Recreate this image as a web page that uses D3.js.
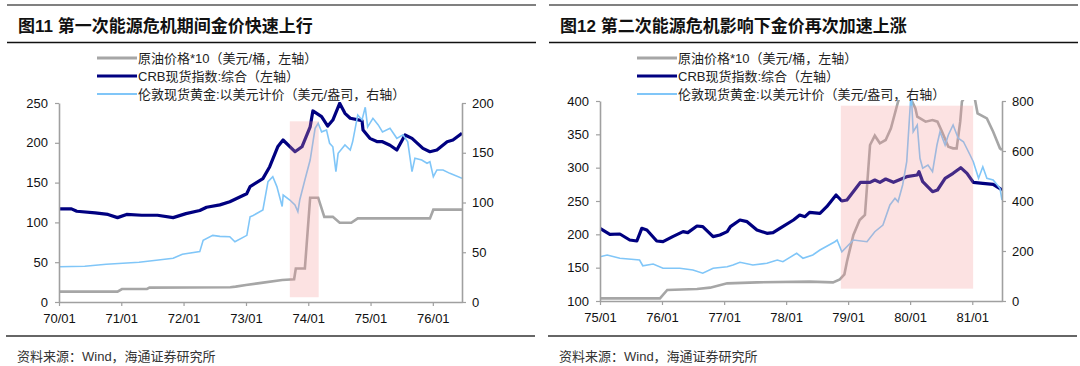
<!DOCTYPE html>
<html>
<head>
<meta charset="utf-8">
<script src="https://cdn.jsdelivr.net/npm/d3@7"></script>
<style>
body { margin: 0; background: #fff; }
text { font-family: "Liberation Sans", Arial, "Noto Sans CJK SC", sans-serif; }
</style>
</head>
<body>
<script>
// ---- 图11 data (1970-1976) ----
const oil1 = [
  ["1970-01-01", 13], ["1970-12-10", 13], ["1971-01-05", 16.3], ["1971-06-01", 16.5],
  ["1971-06-15", 18], ["1972-10-01", 18.5], ["1972-11-01", 19.3], ["1973-01-01", 21.4],
  ["1973-04-01", 24], ["1973-08-01", 27.6], ["1973-10-10", 28.5], ["1973-10-20", 42],
  ["1973-12-12", 42], ["1974-01-12", 131], ["1974-02-28", 131], ["1974-04-05", 107],
  ["1974-05-25", 107], ["1974-07-04", 99.6], ["1974-09-10", 99.6], ["1974-10-18", 105],
  ["1975-12-15", 105], ["1976-01-04", 116], ["1976-06-20", 116]
];
const crb1 = [
  ["1970-01-01", 117], ["1970-03-15", 117], ["1970-04-15", 114], ["1970-08-01", 112],
  ["1970-10-15", 110], ["1970-12-10", 106], ["1971-02-01", 110], ["1971-05-01", 109],
  ["1971-08-01", 109], ["1971-11-01", 106], ["1972-01-15", 111], ["1972-04-05", 115],
  ["1972-05-15", 119], ["1972-08-01", 122], ["1972-09-28", 126], ["1973-01-05", 136],
  ["1973-01-25", 145], ["1973-04-10", 155], ["1973-05-20", 170], ["1973-07-06", 195],
  ["1973-08-06", 203.5], ["1973-10-15", 188.8], ["1973-11-25", 195], ["1974-01-12", 220],
  ["1974-01-28", 240], ["1974-03-20", 232.8], ["1974-04-25", 221], ["1974-05-25", 228.6],
  ["1974-07-04", 249.6], ["1974-08-04", 237], ["1974-09-04", 230.8], ["1974-11-12", 227.8],
  ["1974-11-18", 216], ["1974-12-28", 205.6], ["1975-02-10", 201.4], ["1975-03-12", 201.4],
  ["1975-04-25", 197], ["1975-06-04", 191], ["1975-07-22", 209.8], ["1975-09-01", 205.6],
  ["1975-11-04", 193], ["1975-12-15", 188.8], ["1976-01-25", 191], ["1976-03-25", 201.4],
  ["1976-04-28", 203.5], ["1976-06-20", 212]
];
const gold1 = [
  ["1970-01-01", 35.5], ["1970-06-01", 36], ["1970-10-05", 38], ["1971-01-10", 39],
  ["1971-04-15", 40], ["1971-07-25", 42], ["1971-11-01", 44], ["1971-12-25", 48],
  ["1972-04-05", 50.6], ["1972-04-25", 62], ["1972-06-20", 67], ["1972-08-01", 66],
  ["1972-09-28", 65.6], ["1972-10-28", 60.6], ["1973-01-06", 67], ["1973-01-25", 85.7],
  ["1973-02-12", 87], ["1973-04-10", 92.5], ["1973-05-10", 121], ["1973-06-07", 126],
  ["1973-07-01", 116], ["1973-08-01", 96], ["1973-08-07", 107.5], ["1973-09-15", 102.5],
  ["1973-10-15", 97.5], ["1973-11-01", 90.8], ["1973-11-12", 102.5], ["1973-12-12", 122.6],
  ["1974-01-12", 142.7], ["1974-02-10", 174.5], ["1974-02-28", 179.6], ["1974-03-20", 171],
  ["1974-04-18", 172.9], ["1974-05-06", 159.5], ["1974-05-25", 156], ["1974-06-12", 131],
  ["1974-06-25", 149.4], ["1974-08-04", 157.8], ["1974-09-04", 152.8], ["1974-09-18", 161],
  ["1974-10-18", 188], ["1974-11-12", 183], ["1974-12-01", 195.7], ["1974-12-15", 176],
  ["1975-01-15", 184.6], ["1975-02-15", 178], ["1975-03-12", 171], ["1975-04-25", 174.5],
  ["1975-06-04", 164.5], ["1975-07-10", 168], ["1975-08-07", 161], ["1975-09-01", 131],
  ["1975-09-18", 144.4], ["1975-10-28", 142.7], ["1975-11-28", 139.4], ["1975-12-15", 141],
  ["1976-01-04", 126], ["1976-01-25", 132.7], ["1976-03-01", 132.7], ["1976-04-10", 129.3],
  ["1976-06-20", 124.3]
];
const shade1 = ["1973-09-15", "1974-03-03"];

// ---- 图12 data (1975-1981) ----
const oil2 = [
  ["1975-01-01", 104], ["1975-12-20", 104], ["1976-02-01", 116.5], ["1976-07-25", 118],
  ["1976-10-10", 120], ["1977-01-19", 126.5], ["1977-07-13", 128], ["1978-05-19", 129],
  ["1978-10-04", 128], ["1978-11-13", 132.5], ["1978-12-10", 140], ["1978-12-25", 159],
  ["1979-02-01", 199], ["1979-03-10", 221.5], ["1979-04-10", 229], ["1979-05-10", 334],
  ["1979-06-07", 348], ["1979-07-07", 336.5], ["1979-08-10", 341.5], ["1979-09-10", 359],
  ["1979-10-22", 399], ["1979-11-15", 415], ["1979-12-20", 412], ["1980-02-01", 389],
  ["1980-02-12", 376.5], ["1980-04-01", 369], ["1980-05-12", 371.5], ["1980-06-10", 369],
  ["1980-07-07", 354], ["1980-08-13", 331.5], ["1980-09-10", 329], ["1980-10-01", 329],
  ["1980-10-22", 369], ["1980-11-01", 399], ["1980-12-10", 415], ["1981-01-15", 405],
  ["1981-02-01", 381.5], ["1981-03-28", 374], ["1981-05-04", 354], ["1981-06-13", 329],
  ["1981-06-25", 326.5]
];
const crb2 = [
  ["1975-01-01", 209], ["1975-02-28", 200], ["1975-04-28", 200.5], ["1975-06-25", 191.5],
  ["1975-08-06", 190], ["1975-09-04", 209], ["1975-10-04", 206.5], ["1975-12-01", 190],
  ["1976-01-07", 189], ["1976-03-04", 196.5], ["1976-05-04", 204], ["1976-06-01", 202.5],
  ["1976-07-25", 212.5], ["1976-08-28", 211.5], ["1976-10-28", 196.5], ["1976-12-07", 199],
  ["1977-01-19", 204], ["1977-02-07", 211.5], ["1977-04-04", 221.5], ["1977-05-16", 219],
  ["1977-07-13", 206.5], ["1977-09-10", 201.5], ["1977-10-16", 202.5], ["1977-11-25", 209],
  ["1978-02-13", 221.5], ["1978-03-22", 229], ["1978-04-22", 226.5], ["1978-05-19", 233],
  ["1978-07-19", 231.5], ["1978-08-28", 241.5], ["1978-10-22", 259], ["1978-11-25", 250],
  ["1978-12-25", 251.5], ["1979-03-15", 278], ["1979-05-10", 278], ["1979-06-07", 281.5],
  ["1979-07-07", 278], ["1979-08-10", 283], ["1979-09-25", 278], ["1979-12-12", 286.5],
  ["1980-02-12", 289], ["1980-02-22", 294], ["1980-03-15", 279], ["1980-05-12", 264],
  ["1980-06-10", 266.5], ["1980-07-25", 284], ["1980-09-10", 291.5], ["1980-10-25", 300],
  ["1980-12-01", 291.5], ["1981-01-07", 278], ["1981-03-04", 276.5], ["1981-05-04", 275],
  ["1981-06-25", 266.5]
];
const gold2 = [
  ["1975-01-01", 177], ["1975-02-12", 184], ["1975-04-28", 171], ["1975-08-22", 164],
  ["1975-09-10", 141], ["1975-11-10", 148], ["1976-01-07", 131], ["1976-04-15", 131],
  ["1976-07-01", 124], ["1976-08-28", 111], ["1976-10-28", 131], ["1977-01-19", 137],
  ["1977-02-22", 144], ["1977-04-04", 155], ["1977-06-19", 144], ["1977-09-10", 151],
  ["1977-11-10", 164], ["1977-12-13", 157], ["1978-03-04", 191], ["1978-04-10", 171],
  ["1978-06-07", 184], ["1978-07-19", 204], ["1978-10-15", 237], ["1978-10-28", 244],
  ["1978-11-25", 197], ["1979-02-01", 244], ["1979-04-22", 237], ["1979-06-07", 277],
  ["1979-07-25", 304], ["1979-09-04", 384], ["1979-10-04", 411], ["1979-10-22", 397],
  ["1979-11-18", 464], ["1979-12-12", 557], ["1980-01-07", 840], ["1980-01-19", 677],
  ["1980-02-12", 704], ["1980-02-28", 571], ["1980-03-15", 531], ["1980-04-15", 544],
  ["1980-05-12", 517], ["1980-06-07", 624], ["1980-06-25", 677], ["1980-07-25", 624],
  ["1980-08-13", 664], ["1980-09-10", 704], ["1980-10-10", 651], ["1980-11-10", 637],
  ["1980-12-19", 584], ["1981-01-07", 557], ["1981-02-07", 491], ["1981-03-04", 537],
  ["1981-03-28", 491], ["1981-05-04", 484], ["1981-06-13", 451], ["1981-06-25", 404]
];
const shade2 = ["1978-11-19", "1981-01-06"];

const legendLabels = [
  "原油价格*10（美元/桶，左轴）",
  "CRB现货指数:综合（左轴）",
  "伦敦现货黄金:以美元计价（美元/盎司，右轴）"
];
const sourceText = "资料来源：Wind，海通证券研究所";

const parse = d3.timeParse("%Y-%m-%d");
const svg = d3.select("body").append("svg")
  .attr("width", 1080)
  .attr("height", 366);

function panel(o) {
  const g = svg.append("g");

  // frame rules
  g.append("line").attr("x1", o.frame[0]).attr("x2", o.frame[1]).attr("y1", 5).attr("y2", 5)
    .attr("stroke", "#808080").attr("stroke-width", 2);
  g.append("line").attr("x1", o.frame[0]).attr("x2", o.frame[1]).attr("y1", 42.5).attr("y2", 42.5)
    .attr("stroke", "#111").attr("stroke-width", 1.5);
  g.append("line").attr("x1", o.frame[0] - 1).attr("x2", o.frame[1] - 1).attr("y1", 336).attr("y2", 336)
    .attr("stroke", "#333").attr("stroke-width", 1.5);

  g.append("text").attr("x", o.frame[0] + 11).attr("y", 32)
    .attr("font-size", 17).attr("font-weight", "bold").attr("fill", "#111")
    .text(o.title);
  g.append("text").attr("x", o.frame[0] + 10).attr("y", 361)
    .attr("font-size", 13).attr("fill", "#333")
    .text(sourceText);

  const x = d3.scaleTime().domain(o.xDomain.map(parse)).range([o.left, o.right]);
  const yL = d3.scaleLinear().domain(o.yLDomain).range([o.bottom, o.top]);
  const yR = d3.scaleLinear().domain(o.yRDomain).range([o.bottom, o.top]);

  const clipId = "clip" + o.id;
  g.append("clipPath").attr("id", clipId).append("rect")
    .attr("x", o.left).attr("y", o.top - 1)
    .attr("width", o.right - o.left).attr("height", o.bottom - o.top + 1);

  const lineL = d3.line().x(d => x(parse(d[0]))).y(d => yL(d[1]));
  const lineR = d3.line().x(d => x(parse(d[0]))).y(d => yR(d[1]));

  const plot = g.append("g").attr("clip-path", `url(#${clipId})`);
  plot.append("path").datum(o.oil).attr("d", lineL)
    .attr("fill", "none").attr("stroke", "#a6a6a6").attr("stroke-width", 2.6);
  plot.append("path").datum(o.crb).attr("d", lineL)
    .attr("fill", "none").attr("stroke", "#000080").attr("stroke-width", 3.2)
    .attr("stroke-linejoin", "round");
  plot.append("path").datum(o.gold).attr("d", lineR)
    .attr("fill", "none").attr("stroke", "#80c6f8").attr("stroke-width", 1.6);

  // crisis shading
  g.append("rect")
    .attr("x", x(parse(o.shade[0])))
    .attr("width", x(parse(o.shade[1])) - x(parse(o.shade[0])))
    .attr("y", yL(o.shadeY[1]))
    .attr("height", yL(o.shadeY[0]) - yL(o.shadeY[1]))
    .attr("fill", "rgba(246,150,150,0.28)");

  // axes
  const xAxis = g.append("g").attr("transform", `translate(0,${o.bottom})`)
    .call(d3.axisBottom(x).ticks(d3.timeYear.every(1)).tickFormat(d3.timeFormat("%y/%m"))
      .tickSize(4).tickSizeOuter(0).tickPadding(8));
  const yAxisL = g.append("g").attr("transform", `translate(${o.left},0)`)
    .call(d3.axisLeft(yL).tickValues(o.yLTicks).tickSize(4).tickSizeOuter(0).tickPadding(7));
  const yAxisR = g.append("g").attr("transform", `translate(${o.right},0)`)
    .call(d3.axisRight(yR).tickValues(o.yRTicks).tickSize(4).tickSizeOuter(0).tickPadding(6));
  [xAxis, yAxisL, yAxisR].forEach(a => {
    a.attr("font-family", null).attr("font-size", 13);
    a.select(".domain").attr("stroke", "#a0a0a0").attr("stroke-width", 1.6);
    a.selectAll(".tick line").attr("stroke", "#a0a0a0").attr("stroke-width", 1.2);
    a.selectAll(".tick text").attr("fill", "#111");
  });

  // legend
  const colors = ["#a6a6a6", "#000080", "#80c6f8"];
  const widths = [3, 3, 2];
  const lg = g.append("g");
  legendLabels.forEach((t, i) => {
    const y = 58 + i * 18;
    lg.append("line").attr("x1", o.legendX).attr("x2", o.legendX + 40)
      .attr("y1", y).attr("y2", y)
      .attr("stroke", colors[i]).attr("stroke-width", widths[i]);
    lg.append("text").attr("x", o.legendX + 41).attr("y", y + 4.5)
      .attr("font-size", 13).attr("fill", "#222").text(t);
  });
}

panel({
  id: 1, title: "图11  第一次能源危机期间金价快速上行",
  frame: [7, 536], legendX: 97,
  left: 59, right: 462, top: 103, bottom: 302,
  xDomain: ["1970-01-01", "1976-06-20"],
  yLDomain: [0, 250], yLTicks: [0, 50, 100, 150, 200, 250],
  yRDomain: [0, 200], yRTicks: [0, 50, 100, 150, 200],
  oil: oil1, crb: crb1, gold: gold1,
  shade: shade1, shadeY: [6, 227]
});

panel({
  id: 2, title: "图12 第二次能源危机影响下金价再次加速上涨",
  frame: [549, 1078], legendX: 637,
  left: 600, right: 1002, top: 101, bottom: 301,
  xDomain: ["1975-01-01", "1981-06-25"],
  yLDomain: [100, 400], yLTicks: [100, 150, 200, 250, 300, 350, 400],
  yRDomain: [0, 800], yRTicks: [0, 200, 400, 600, 800],
  oil: oil2, crb: crb2, gold: gold2,
  shade: shade2, shadeY: [118.5, 393]
});
</script>
</body>
</html>
